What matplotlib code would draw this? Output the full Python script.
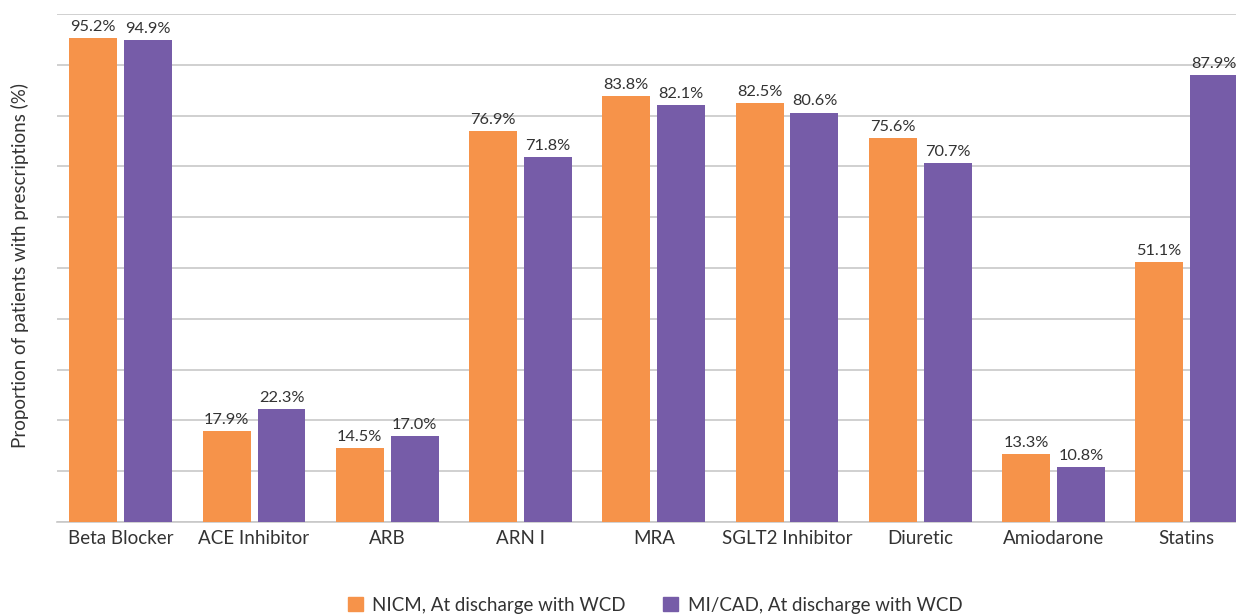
import numpy as np
import matplotlib.pyplot as plt
from matplotlib.patches import Patch

plt.rcParams['font.family'] = ['Lato', 'DejaVu Sans']

# Discharge prescriptions by drug class
drugs = ['Beta Blocker', 'ACE Inhibitor', 'ARB', 'ARN I', 'MRA',
         'SGLT2 Inhibitor', 'Diuretic', 'Amiodarone', 'Statins']
nicm = [95.2, 17.9, 14.5, 76.9, 83.8, 82.5, 75.6, 13.3, 51.1]
mi_cad = [94.9, 22.3, 17.0, 71.8, 82.1, 80.6, 70.7, 10.8, 87.9]
series_names = ['NICM, At discharge with WCD', 'MI/CAD, At discharge with WCD']

orange = '#F6934A'
purple = '#765CA8'
text_col = '#333333'

fig = plt.figure(figsize=(12.36, 6.15), dpi=100)
ax = fig.add_axes([57 / 1236, 1 - 522 / 615, (1236 - 57) / 1236, (522 - 14) / 615])

x = np.arange(len(drugs))
w = 0.36
gap = 0.052
b1 = ax.bar(x - (w + gap) / 2, nicm, w, color=orange, zorder=3)
b2 = ax.bar(x + (w + gap) / 2, mi_cad, w, color=purple, zorder=3)

for bars, vals in ((b1, nicm), (b2, mi_cad)):
    for rect, v in zip(bars, vals):
        ax.text(rect.get_x() + rect.get_width() / 2, v + 0.8, f'{v:.1f}%',
                ha='center', va='bottom', fontsize=11.8, color=text_col, zorder=4)

ax.set_xlim(-0.479, 8.37)
ax.set_ylim(0, 100)
ax.set_yticks(np.arange(0, 101, 10))
ax.set_yticklabels([])
ax.tick_params(axis='y', length=0)
ax.yaxis.grid(True, color='#c8c8c8', linewidth=1.2, zorder=0)
ax.set_axisbelow(True)

ax.set_xticks(x)
ax.set_xticklabels(drugs, fontsize=13.5, color=text_col)
ax.tick_params(axis='x', length=0, pad=6)

for side in ('top', 'right', 'left'):
    ax.spines[side].set_visible(False)
ax.spines['bottom'].set_color('#c8c8c8')
ax.spines['bottom'].set_linewidth(1.2)

fig.text(20 / 1236, 1 - 266 / 615, 'Proportion of patients with prescriptions (%)',
         rotation=90, ha='center', va='center', fontsize=13.5, color=text_col)

handles = [Patch(color=orange), Patch(color=purple)]
fig.legend(handles, series_names, loc='center', bbox_to_anchor=(655 / 1236, 1 - 605 / 615),
           ncol=2, frameon=False, fontsize=13.5, handlelength=0.8, handleheight=0.8,
           handletextpad=0.5, columnspacing=2.0, labelcolor=text_col)

fig.savefig('out.png', dpi=100)
